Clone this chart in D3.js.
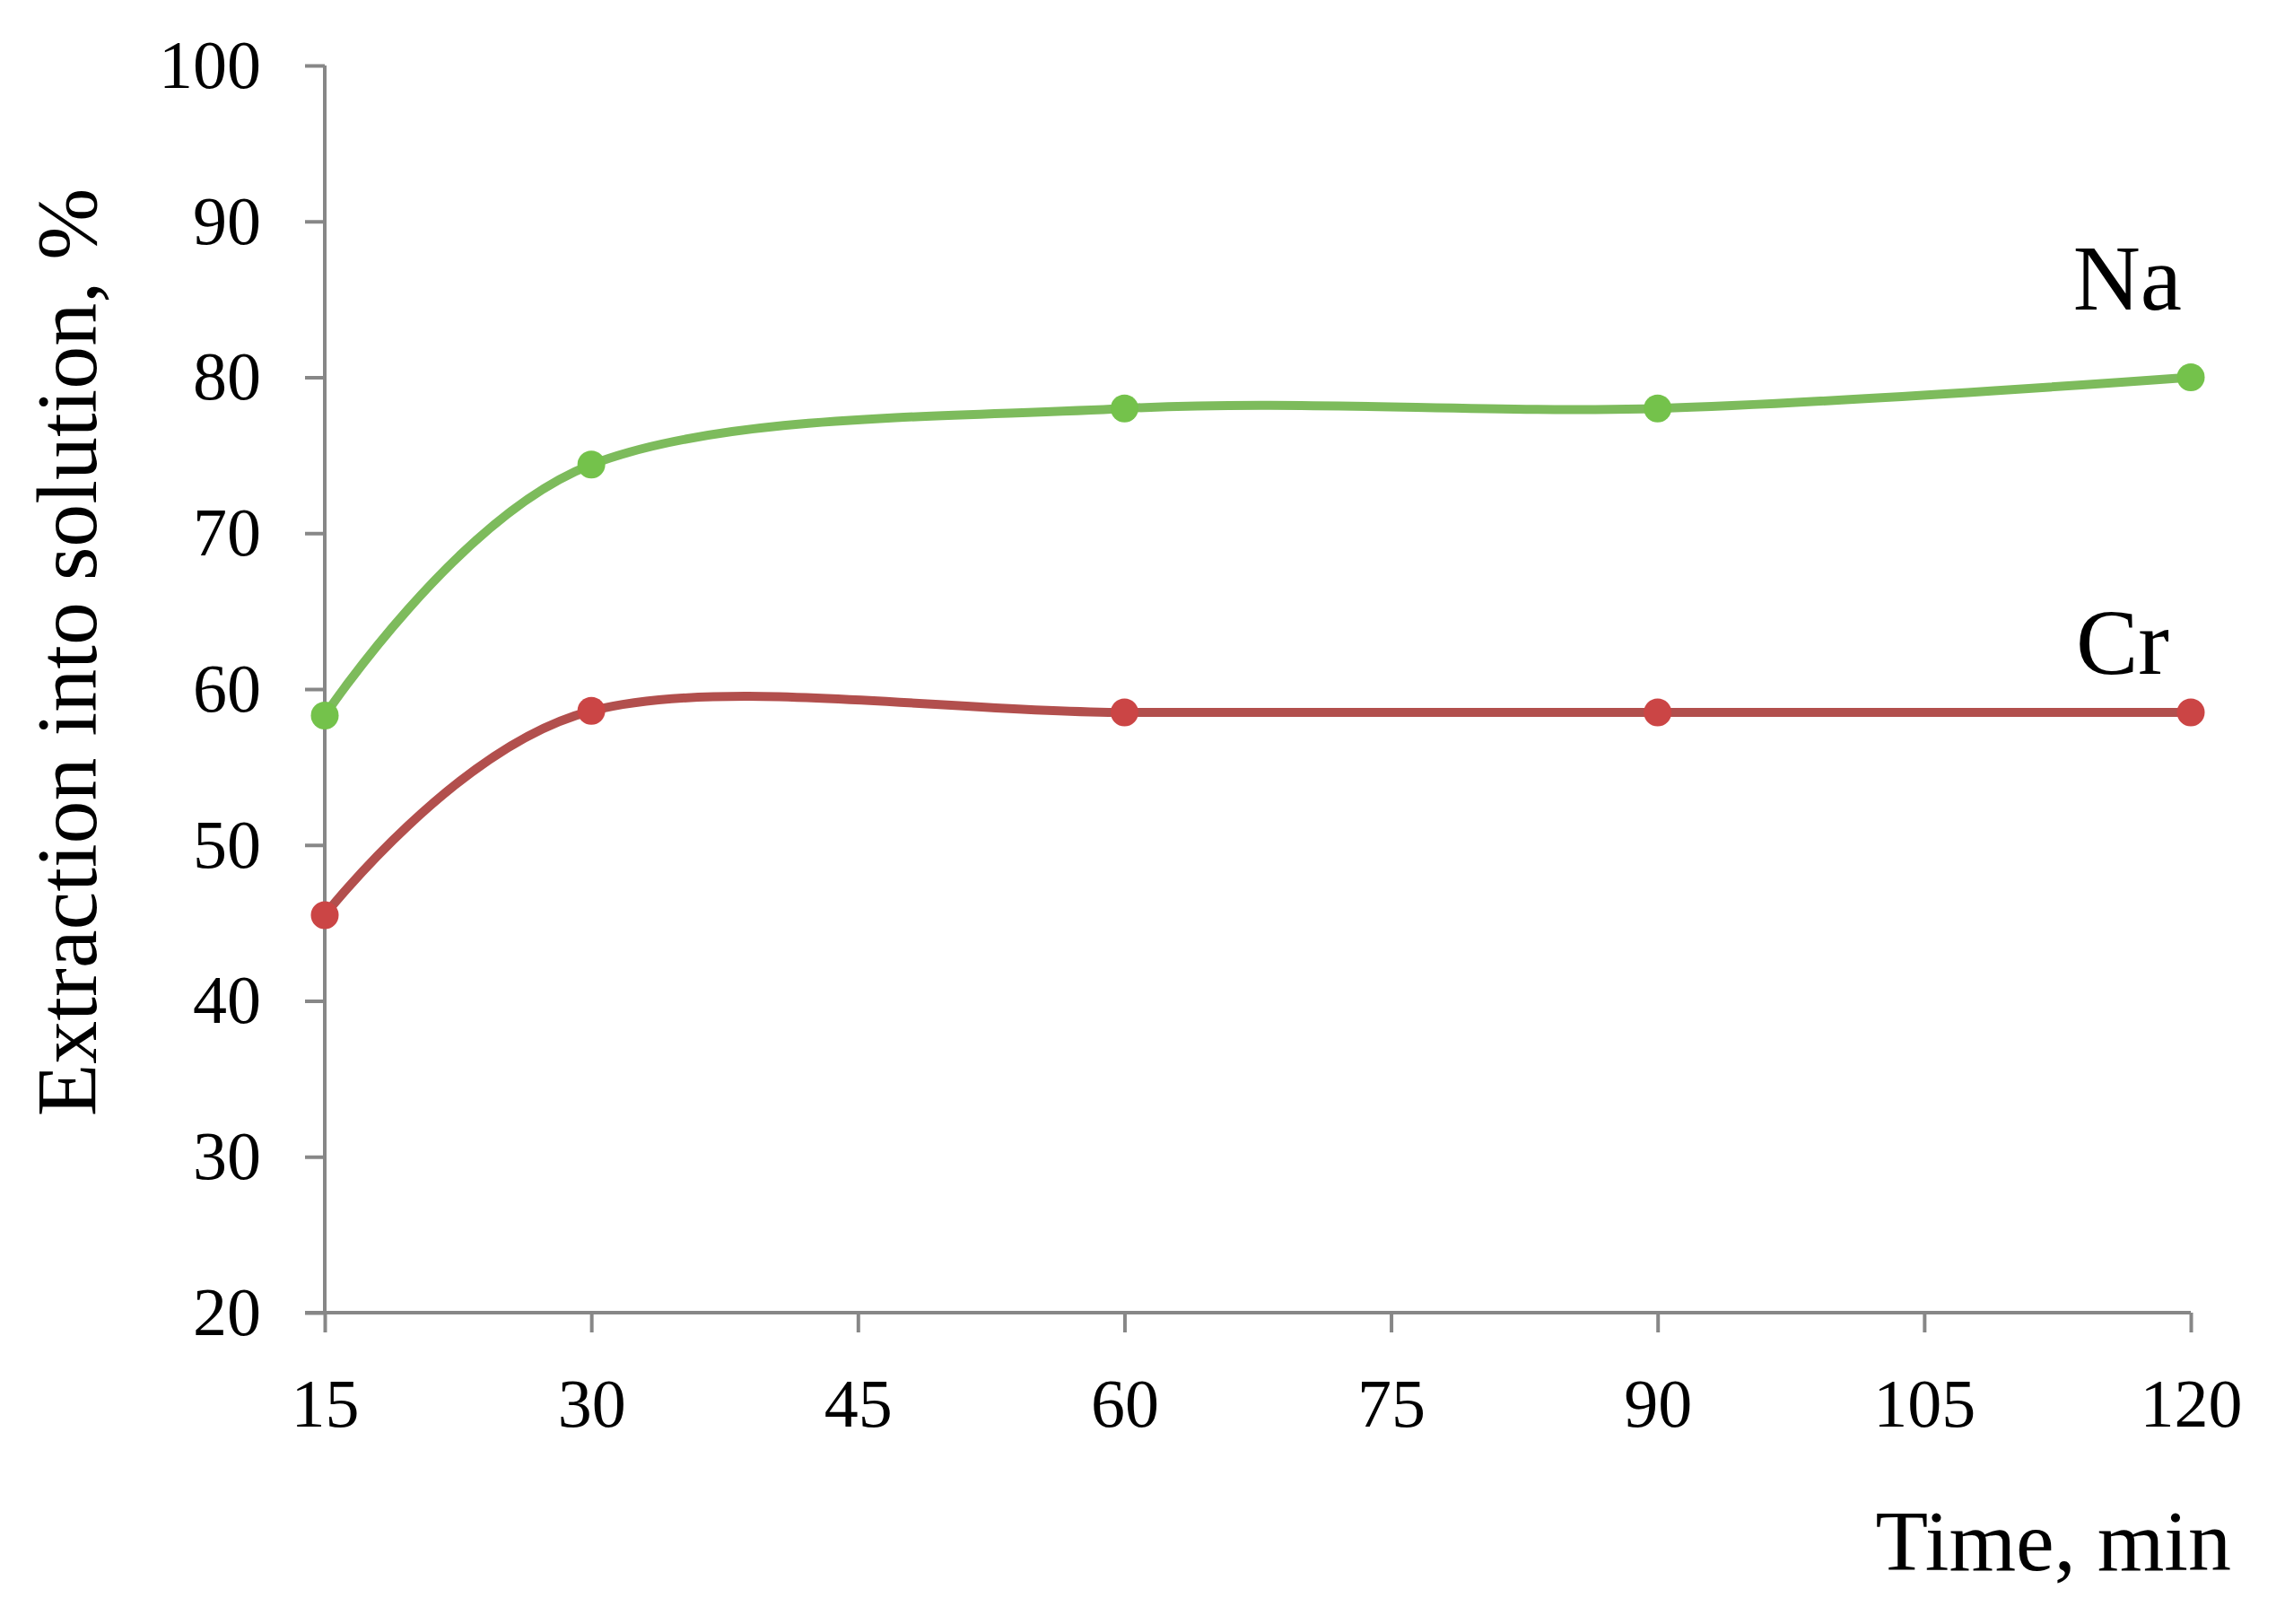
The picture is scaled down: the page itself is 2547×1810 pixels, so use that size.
<!DOCTYPE html>
<html><head><meta charset="utf-8">
<script src="https://cdn.jsdelivr.net/npm/d3@7"></script>
<style>
html,body{margin:0;padding:0;background:#fff;}
text{font-family:"Liberation Serif","Times New Roman",serif;fill:#000;}
</style></head>
<body>
<script>
const times = [15, 30, 60, 90, 120];
const naValues = [58.3, 74.4, 78.0, 78.0, 80.0];
const crValues = [45.5, 58.6, 58.5, 58.5, 58.5];
const xTicks = [15, 30, 45, 60, 75, 90, 105, 120];
const yTicks = [20, 30, 40, 50, 60, 70, 80, 90, 100];
const seriesNames = ["Na", "Cr"];

const W = 2547, H = 1810;
const svg = d3.select("body").append("svg").attr("width", W).attr("height", H);

const x = d3.scaleLinear().domain([15, 120]).range([362, 2442]);
const y = d3.scaleLinear().domain([20, 100]).range([1463, 73]);

const axisColor = "#878787";

const yAxis = svg.append("g").attr("transform", `translate(${x(15)},0)`)
  .call(d3.axisLeft(y).tickValues(yTicks).tickSize(22).tickPadding(49).tickFormat(d3.format("d")));
const xAxis = svg.append("g").attr("transform", `translate(0,${y(20)})`)
  .call(d3.axisBottom(x).tickValues(xTicks).tickSize(22).tickPadding(51).tickFormat(d3.format("d")));

[yAxis, xAxis].forEach(g => {
  g.select(".domain").remove();
  g.selectAll(".tick line").attr("stroke", axisColor).attr("stroke-width", 4);
  g.selectAll(".tick text").attr("font-size", 76).attr("font-family", "Liberation Serif").attr("fill", "#000");
});
svg.append("line").attr("x1", x(15)).attr("x2", x(15)).attr("y1", y(100)).attr("y2", y(20))
  .attr("stroke", axisColor).attr("stroke-width", 4);
svg.append("line").attr("x1", x(15) - 22).attr("x2", x(120)).attr("y1", y(20)).attr("y2", y(20))
  .attr("stroke", axisColor).attr("stroke-width", 4);

svg.append("text").attr("transform", `translate(107,727) rotate(-90)`)
  .attr("text-anchor", "middle").attr("font-size", 96).text("Extraction into solution, %");
svg.append("text").attr("x", 2487).attr("y", 1750).attr("text-anchor", "end")
  .attr("font-size", 96).text("Time, min");

const series = [
  {name: seriesNames[0], values: naValues, line: "#7dbb5c", marker: "#74c24b"},
  {name: seriesNames[1], values: crValues, line: "#b24f4d", marker: "#cb4545"}
];

const line = d3.line().x(d => x(d[0])).y(d => y(d[1])).curve(d3.curveCardinal.tension(0));

series.forEach(s => {
  const pts = times.map((t, i) => [t, s.values[i]]);
  svg.append("path").attr("d", line(pts)).attr("fill", "none")
    .attr("stroke", s.line).attr("stroke-width", 10);
  svg.selectAll(null).data(pts).enter().append("circle")
    .attr("cx", d => x(d[0])).attr("cy", d => y(d[1])).attr("r", 15.5)
    .attr("fill", s.marker);
});

svg.append("text").attr("x", 2432).attr("y", 345).attr("text-anchor", "end")
  .attr("font-size", 104).text(seriesNames[0]);
svg.append("text").attr("x", 2418).attr("y", 751).attr("text-anchor", "end")
  .attr("font-size", 104).text(seriesNames[1]);
</script>
</body></html>
